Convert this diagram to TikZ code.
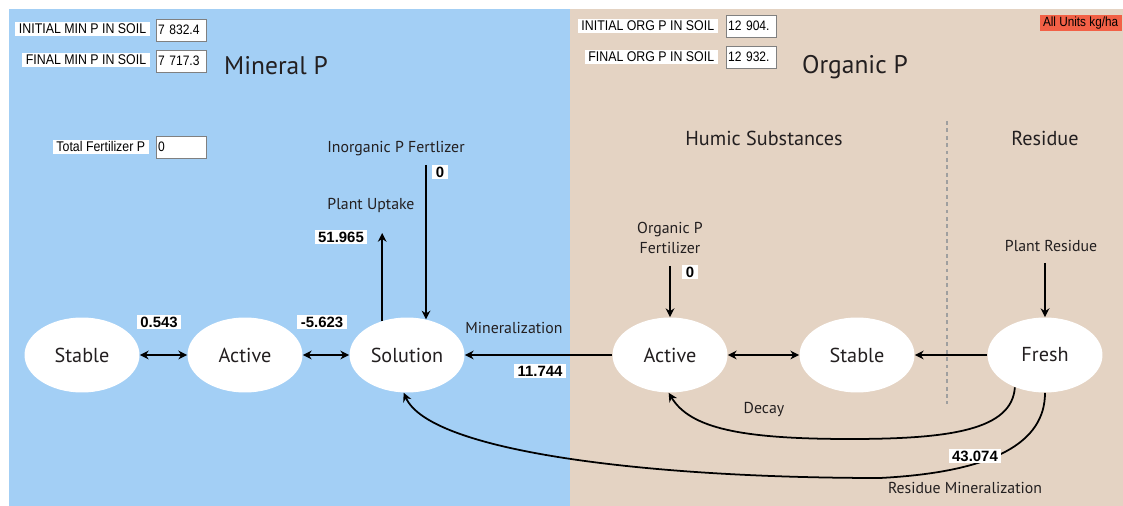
\documentclass[tikz,border=0pt]{standalone}
\usepackage{fontspec}
\setmainfont{PT Sans}
\newfontfamily\uifont[FakeStretch=0.88]{Liberation Sans}
\newfontfamily\numfont{Liberation Sans}
\usepackage{xcolor}
\usetikzlibrary{shapes.geometric,arrows.meta}
\definecolor{minblue}{HTML}{A3CFF5}
\definecolor{orgtan}{HTML}{E4D3C3}
\definecolor{unitred}{HTML}{F26046}
\definecolor{ink}{HTML}{231F20}

\begin{document}
\begin{tikzpicture}[x=0.02cm,y=-0.02cm,
    pool/.style={ellipse,fill=white,minimum width=2.3cm,minimum height=1.5cm,inner sep=0pt,
      text=ink,font=\fontsize{11.5}{13}\selectfont},
    flow/.style={line width=1pt,-{Stealth[length=5pt,width=5pt]}},
    both/.style={line width=1pt,{Stealth[length=5pt,width=5pt]}-{Stealth[length=5pt,width=5pt]}},
    caption/.style={text=ink,font=\fontsize{9}{11}\selectfont},
    heading/.style={text=ink,font=\fontsize{11.5}{13}\selectfont},
    title/.style={text=ink,font=\fontsize{14.5}{16}\selectfont},
    rate/.style={fill=white,inner xsep=2pt,inner ysep=0.9pt,text height=6.1pt,text depth=0.2pt,
      font=\numfont\bfseries\fontsize{8.5}{9}\selectfont},
    field/.style={fill=white,inner xsep=2pt,inner ysep=1pt,text height=5.8pt,text depth=0.4pt,
      font=\uifont\fontsize{8}{9}\selectfont},
    entry/.style={draw=gray,fill=white,minimum height=0.44cm,inner xsep=1pt,text width=0.93cm,
      align=left,font=\uifont\fontsize{7.8}{9}\selectfont}]
  \useasboundingbox (0,0) rectangle (1123,506);
  % the two halves
  \fill[minblue] (9,9) rectangle (570,506);
  \fill[orgtan] (570,9) rectangle (1123,506);
  \draw[gray!75,line width=0.9pt,dash pattern=on 2.2pt off 2pt] (947,121) -- (947,404);

  % totals
  \node[field,anchor=east] (iminlab) at (150,29) {INITIAL MIN P IN SOIL};
  \node[entry,anchor=west] (iminval) at (156,30) {7 832.4};
  \node[field,anchor=east] (fminlab) at (150,60) {FINAL MIN P IN SOIL};
  \node[entry,anchor=west] (fminval) at (156,61) {7 717.3};
  \node[field,anchor=east] (fertlab) at (149,147) {Total Fertilizer P};
  \node[entry,anchor=west] (fertval) at (156,147) {0};
  \node[field,anchor=east] (iorglab) at (718,26) {INITIAL ORG P IN SOIL};
  \node[entry,anchor=west] (iorgval) at (726,26) {12 904.};
  \node[field,anchor=east] (forglab) at (718,57) {FINAL ORG P IN SOIL};
  \node[entry,anchor=west] (forgval) at (726,57) {12 932.};
  \node[field,fill=unitred,anchor=east,text depth=1.5pt,font=\uifont\fontsize{7.6}{9}\selectfont]
    (units) at (1122,23) {All Units kg/ha};

  \node[title] (minp) at (276,66) {Mineral P};
  \node[title] (orgp) at (855,67) {Organic P};
  \node[heading] (humic) at (764,138) {Humic Substances};
  \node[heading] (resid) at (1045,138) {Residue};

  % pools
  \node[pool] (stab) at (82,355) {Stable};
  \node[pool] (act) at (245,355) {Active};
  \node[pool] (sol) at (407,355) {Solution};
  \node[pool] (oact) at (670,355) {Active};
  \node[pool] (ostab) at (857,355) {Stable};
  \node[pool] (fresh) at (1045,355) {Fresh};

  % inputs and uptake
  \node[caption] (inorg) at (396,149) {Inorganic P Fertlizer};
  \coordinate (inorgin) at (426,165);
  \node[caption] (uplab) at (371,205) {Plant Uptake};
  \coordinate (uptake) at (382,233);
  \node[caption,align=center] (ofert) at (670,238) {Organic P\\Fertilizer};
  \coordinate (ofertin) at (670,266);
  \node[caption] (plres) at (1051,246) {Plant Residue};
  \coordinate (resin) at (1045,263);

  \draw[flow] (inorgin) -- (inorgin |- sol.61);
  \draw[flow] (sol.126) -- (sol.126 |- uptake);
  \draw[flow] (ofertin) -- (oact);
  \draw[flow] (resin) -- (fresh);
  \draw[both] (stab) -- (act);
  \draw[both] (act) -- (sol);
  \draw[flow] (oact) -- (sol);
  \draw[both] (oact) -- (ostab);
  \draw[flow] (fresh) -- (ostab);
  \draw[flow] (fresh.227) .. controls (1012,430) and (950,439) .. (850,439)
    .. controls (740,439) and (690,428) .. (oact.268);
  \draw[flow] (fresh.south) .. controls (1045,442) and (995,472) .. (880,478)
    .. controls (650,478) and (430,452) .. (sol.265);

  % labels on the flows
  \node[caption] (minlab) at (514,328) {Mineralization};
  \node[caption] (decay) at (764,410) {Decay};
  \node[caption] (resmin) at (965,488) {Residue Mineralization};
  \node[rate] (v1) at (159,322) {0.543};
  \node[rate] (v2) at (322,322) {-5.623};
  \node[rate] (v3) at (341,237) {51.965};
  \node[rate] (v4) at (440,172) {0};
  \node[rate] (v5) at (540,371) {11.744};
  \node[rate] (v6) at (690,272) {0};
  \node[rate] (v7) at (975,456) {43.074};
\end{tikzpicture}
\end{document}
